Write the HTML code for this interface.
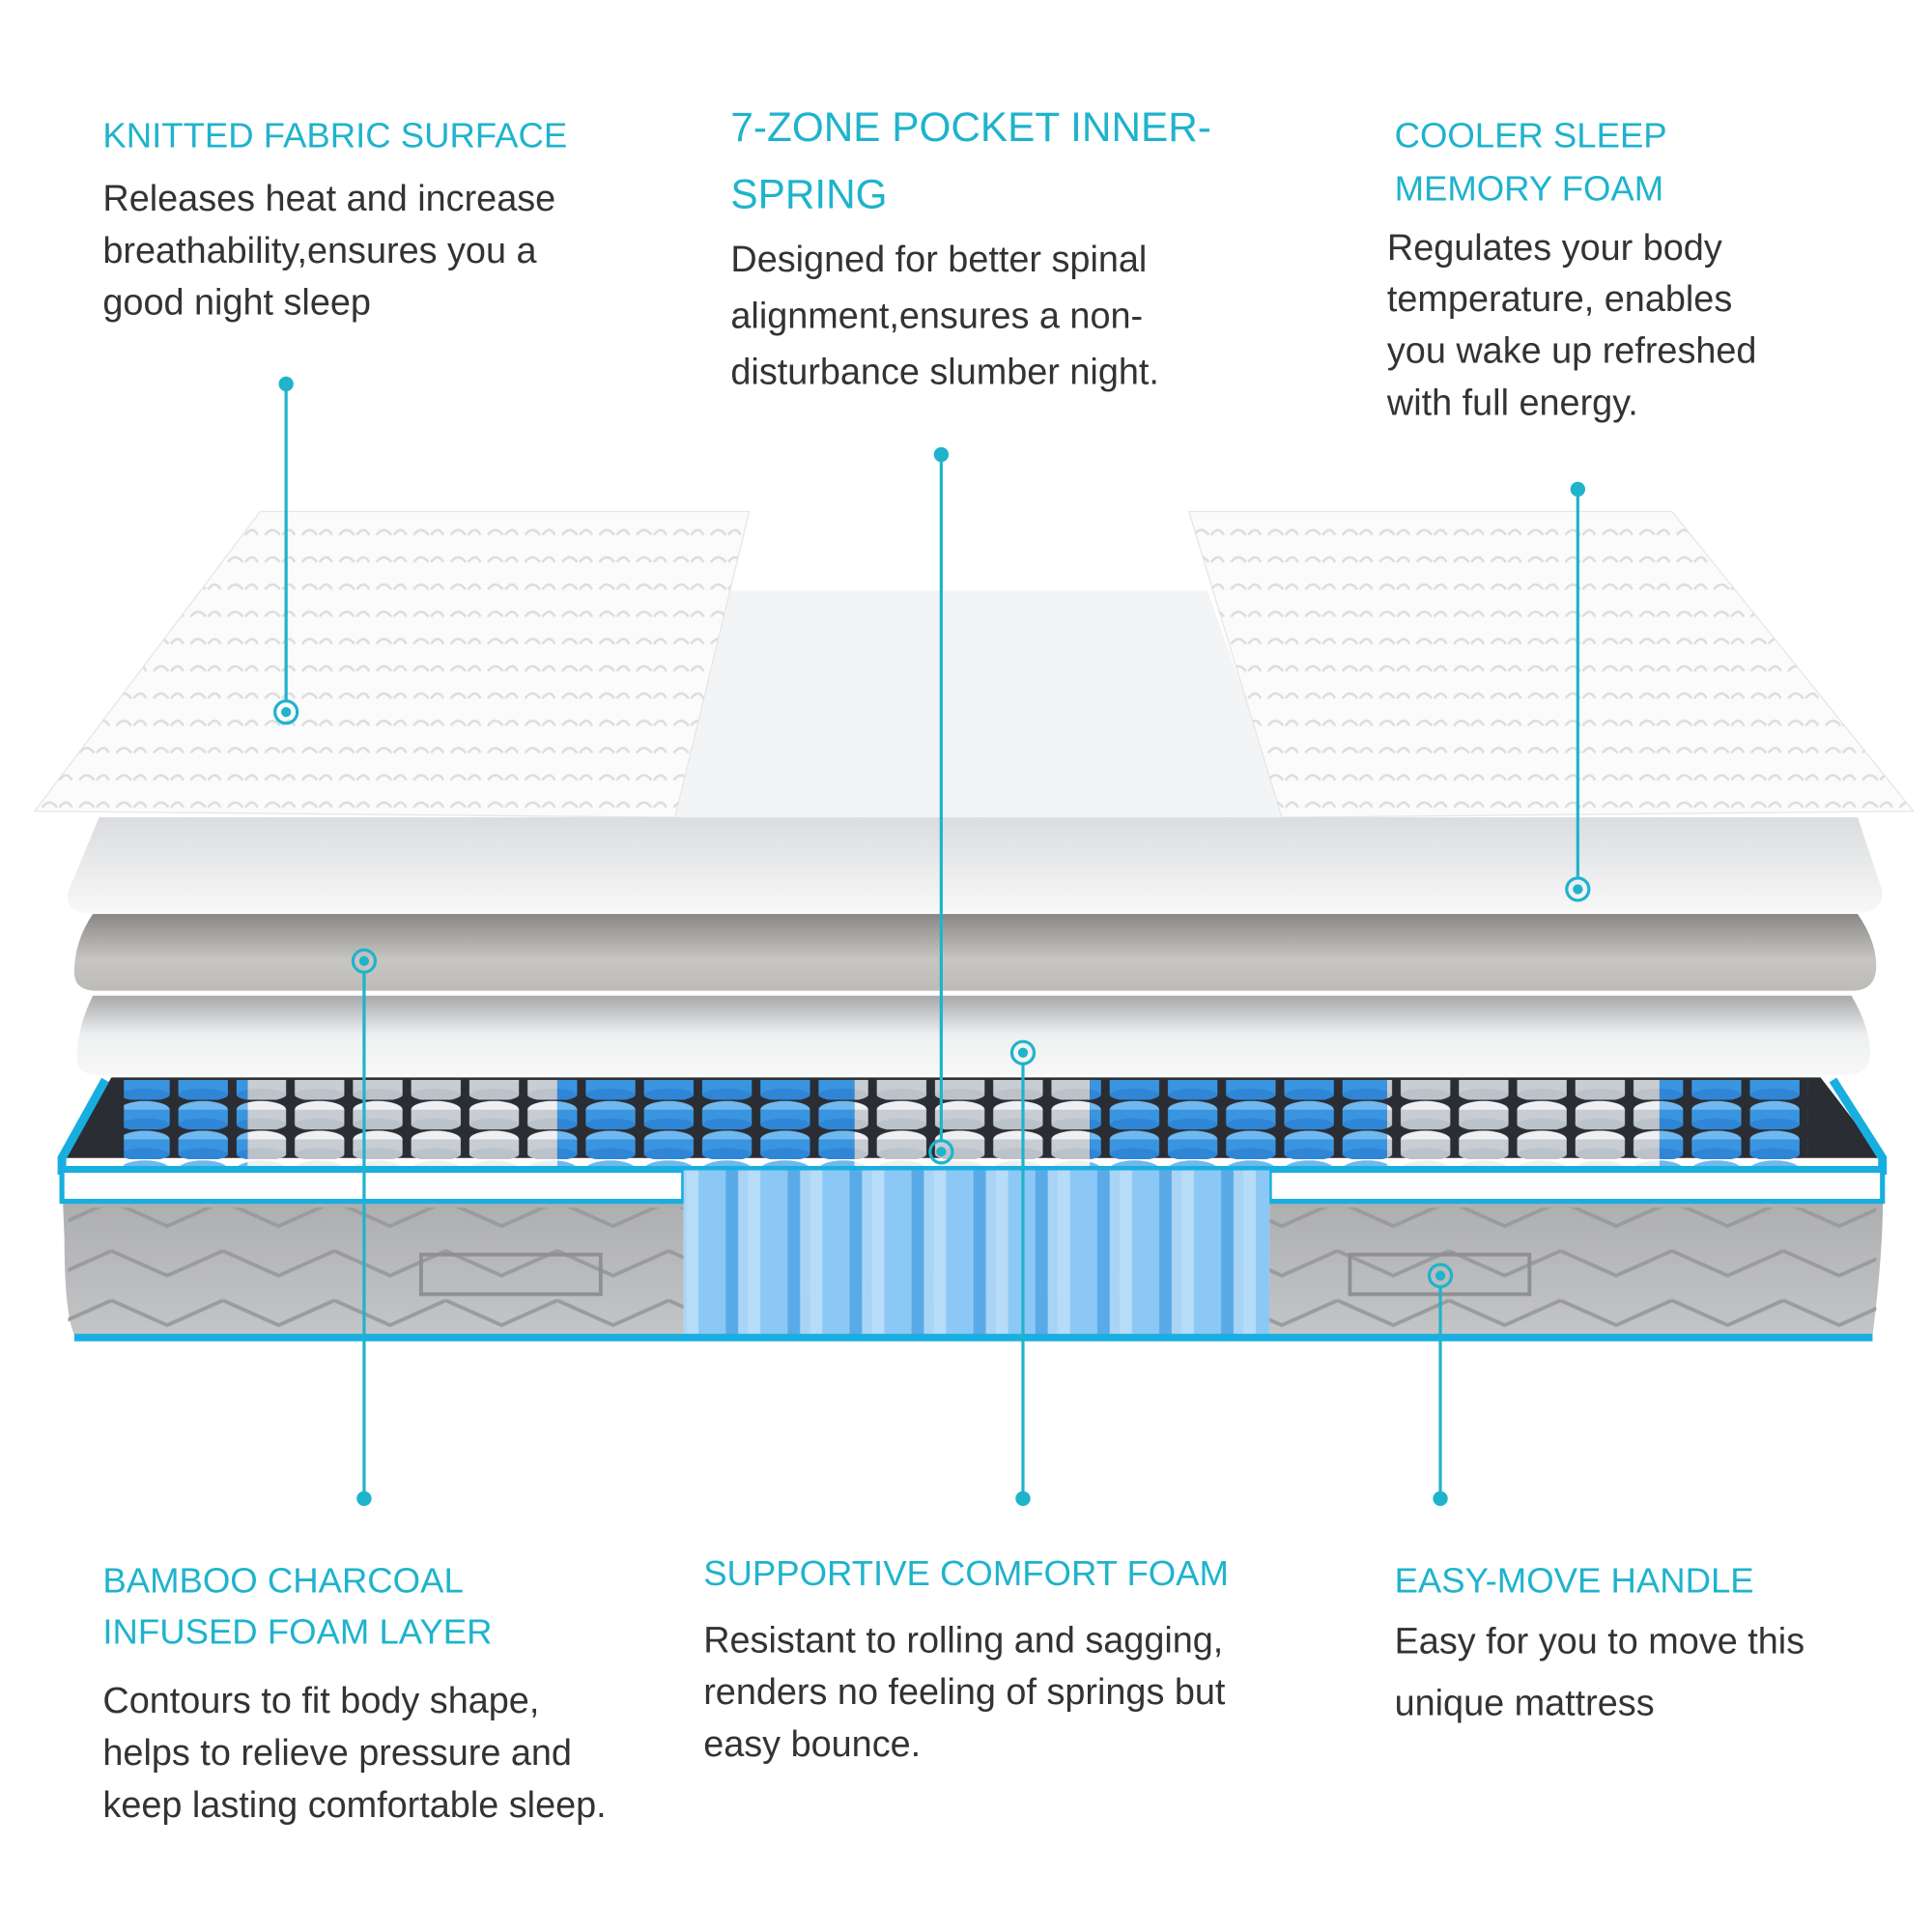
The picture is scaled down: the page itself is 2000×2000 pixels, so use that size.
<!DOCTYPE html>
<html><head><meta charset="utf-8"><style>
html,body{margin:0;padding:0;background:#fff;}
svg{display:block;}
.h{font-family:"Liberation Sans",sans-serif;fill:#1fb3cc;font-size:28.5px;}
.b{font-family:"Liberation Sans",sans-serif;fill:#333;font-size:29.5px;}
</style></head><body>
<svg width="2000" height="2000" viewBox="0 0 1560 1560" xmlns="http://www.w3.org/2000/svg">
<defs>
<linearGradient id="gray" x1="0" y1="0" x2="0" y2="1"><stop offset="0" stop-color="#8a8886"/><stop offset="0.6" stop-color="#c8c6c3"/><stop offset="1" stop-color="#bdbbb8"/></linearGradient>
<linearGradient id="wl" x1="0" y1="0" x2="0" y2="1"><stop offset="0" stop-color="#a8a9ab"/><stop offset="0.5" stop-color="#eef0f1"/><stop offset="1" stop-color="#f7f7f7"/></linearGradient>
<linearGradient id="foam" x1="0" y1="0" x2="0" y2="1"><stop offset="0" stop-color="#dadcde"/><stop offset="1" stop-color="#f8f8f8"/></linearGradient>
<linearGradient id="side" x1="0" y1="0" x2="0" y2="1"><stop offset="0" stop-color="#a9aaac"/><stop offset="1" stop-color="#c4c5c7"/></linearGradient>
<pattern id="knit" width="30" height="22" patternUnits="userSpaceOnUse"><path d="M4 14 q6 -8 12 0 M18 14 q6 -8 10 0" stroke="#dcdde0" stroke-width="2" fill="none"/></pattern>
<pattern id="zig" width="90" height="40" patternUnits="userSpaceOnUse"><path d="M0 10 L45 30 L90 10" stroke="#9a9b9e" stroke-width="3" fill="none"/></pattern>
<pattern id="sb" width="47" height="24" patternUnits="userSpaceOnUse"><ellipse cx="23" cy="8" rx="20" ry="7" fill="#6fb8f0"/><rect x="3" y="8" width="40" height="12" fill="#3a95e0"/><ellipse cx="23" cy="20" rx="20" ry="5" fill="#2f86d6"/></pattern>
<pattern id="sw" width="47" height="24" patternUnits="userSpaceOnUse"><ellipse cx="23" cy="8" rx="20" ry="7" fill="#eef0f3"/><rect x="3" y="8" width="40" height="12" fill="#c8cdd4"/><ellipse cx="23" cy="20" rx="20" ry="5" fill="#bcc2ca"/></pattern>
<pattern id="cb" width="50" height="130" patternUnits="userSpaceOnUse"><rect x="4" y="0" width="42" height="130" rx="10" fill="#8cc8f5"/><rect x="4" y="0" width="10" height="130" fill="#b7dcf8"/><rect x="36" y="0" width="10" height="130" fill="#5aaae8"/></pattern>
</defs>
<rect width="1560" height="1560" fill="#fff"/>

<polygon points="590,477 975,477 1040,660 545,660" fill="#f3f4f5"/>
<polygon points="210,413 605,413 545,660 28,655" fill="#fbfbfb" stroke="#e6e6e6"/>
<polygon points="210,413 605,413 545,660 28,655" fill="url(#knit)"/>
<polygon points="960,413 1350,413 1545,655 1035,660" fill="#fbfbfb" stroke="#e6e6e6"/>
<polygon points="960,413 1350,413 1545,655 1035,660" fill="url(#knit)"/>
<path d="M80,660 L1500,660 L1520,720 Q1520,737 1500,737 L70,737 Q52,737 55,720 Z" fill="url(#foam)"/>
<path d="M75,738 L1500,738 Q1515,760 1515,780 Q1515,800 1495,800 L78,800 Q60,800 60,785 Q60,760 75,738 Z" fill="url(#gray)"/>
<path d="M75,804 L1495,804 Q1510,830 1510,850 Q1510,868 1490,868 L80,868 Q62,868 62,855 Q62,830 75,804 Z" fill="url(#wl)"/>

<path d="M90,870 L1470,870 L1520,935 L50,935 Z" fill="#2a2d33"/>
<rect x="100" y="872" width="100" height="72" fill="url(#sb)"/>
<rect x="200" y="872" width="250" height="72" fill="url(#sw)"/>
<rect x="450" y="872" width="240" height="72" fill="url(#sb)"/>
<rect x="690" y="872" width="190" height="72" fill="url(#sw)"/>
<rect x="880" y="872" width="240" height="72" fill="url(#sb)"/>
<rect x="1120" y="872" width="220" height="72" fill="url(#sw)"/>
<rect x="1340" y="872" width="120" height="72" fill="url(#sb)"/>
<path d="M85,872 L50,935 L50,945 L1520,945 L1520,935 L1480,872" fill="none" stroke="#19aee0" stroke-width="7"/>
<path d="M50,950 L552,950 L552,1078 L60,1078 Q52,1060 52,1000 Z" fill="url(#side)"/>
<path d="M1025,950 L1520,950 Q1522,1000 1512,1078 L1025,1078 Z" fill="url(#side)"/>
<rect x="55" y="975" width="497" height="100" fill="url(#zig)"/>
<rect x="1025" y="975" width="490" height="100" fill="url(#zig)"/>
<rect x="50" y="945" width="502" height="25" fill="#fff" stroke="#19aee0" stroke-width="4"/>
<rect x="1025" y="945" width="495" height="25" fill="#fff" stroke="#19aee0" stroke-width="4"/>
<rect x="340" y="1013" width="145" height="32" fill="none" stroke="#8f9093" stroke-width="3"/>
<rect x="1090" y="1013" width="145" height="32" fill="none" stroke="#8f9093" stroke-width="3"/>
<rect x="552" y="945" width="473" height="133" fill="#a9d4f5"/>
<rect x="552" y="945" width="473" height="133" fill="url(#cb)"/>
<path d="M60,1080 L1512,1080" stroke="#19aee0" stroke-width="6"/>

<g stroke="#1fb3cc" stroke-width="2.5" fill="none">
<line x1="231" y1="310" x2="231" y2="567"/><circle cx="231" cy="575" r="9"/>
<line x1="760" y1="367" x2="760" y2="922"/><circle cx="760" cy="930" r="9"/>
<line x1="1274" y1="395" x2="1274" y2="710"/><circle cx="1274" cy="718" r="9"/>
<line x1="294" y1="785" x2="294" y2="1210"/><circle cx="294" cy="776" r="9"/>
<line x1="826" y1="859" x2="826" y2="1210"/><circle cx="826" cy="850" r="9"/>
<line x1="1163" y1="1039" x2="1163" y2="1210"/><circle cx="1163" cy="1030" r="9"/>
</g>
<g fill="#1fb3cc">
<circle cx="231" cy="310" r="6"/><circle cx="231" cy="575" r="4"/>
<circle cx="760" cy="367" r="6"/><circle cx="760" cy="930" r="4"/>
<circle cx="1274" cy="395" r="6"/><circle cx="1274" cy="718" r="4"/>
<circle cx="294" cy="1210" r="6"/><circle cx="294" cy="776" r="4"/>
<circle cx="826" cy="1210" r="6"/><circle cx="826" cy="850" r="4"/>
<circle cx="1163" cy="1210" r="6"/><circle cx="1163" cy="1030" r="4"/>
</g>

<text class="h" x="83" y="119">KNITTED FABRIC SURFACE</text>
<text class="b" x="83" y="170">Releases heat and increase</text>
<text class="b" x="83" y="212">breathability,ensures you a</text>
<text class="b" x="83" y="254">good night sleep</text>

<text class="h" x="590" y="114" style="font-size:33px">7-ZONE POCKET INNER-</text>
<text class="h" x="590" y="168" style="font-size:33px">SPRING</text>
<text class="b" x="590" y="219">Designed for better spinal</text>
<text class="b" x="590" y="265">alignment,ensures a non-</text>
<text class="b" x="590" y="310">disturbance slumber night.</text>

<text class="h" x="1126" y="119">COOLER SLEEP</text>
<text class="h" x="1126" y="162">MEMORY FOAM</text>
<text class="b" x="1120" y="210">Regulates your body</text>
<text class="b" x="1120" y="251">temperature, enables</text>
<text class="b" x="1120" y="293">you wake up refreshed</text>
<text class="b" x="1120" y="335">with full energy.</text>

<text class="h" x="83" y="1286">BAMBOO CHARCOAL</text>
<text class="h" x="83" y="1327">INFUSED FOAM LAYER</text>
<text class="b" x="83" y="1383">Contours to fit body shape,</text>
<text class="b" x="83" y="1425">helps to relieve pressure and</text>
<text class="b" x="83" y="1467">keep lasting comfortable sleep.</text>

<text class="h" x="568" y="1280">SUPPORTIVE COMFORT FOAM</text>
<text class="b" x="568" y="1334">Resistant to rolling and sagging,</text>
<text class="b" x="568" y="1376">renders no feeling of springs but</text>
<text class="b" x="568" y="1418">easy bounce.</text>

<text class="h" x="1126" y="1286">EASY-MOVE HANDLE</text>
<text class="b" x="1126" y="1335">Easy for you to move this</text>
<text class="b" x="1126" y="1385">unique mattress</text>
</svg>
</body></html>
